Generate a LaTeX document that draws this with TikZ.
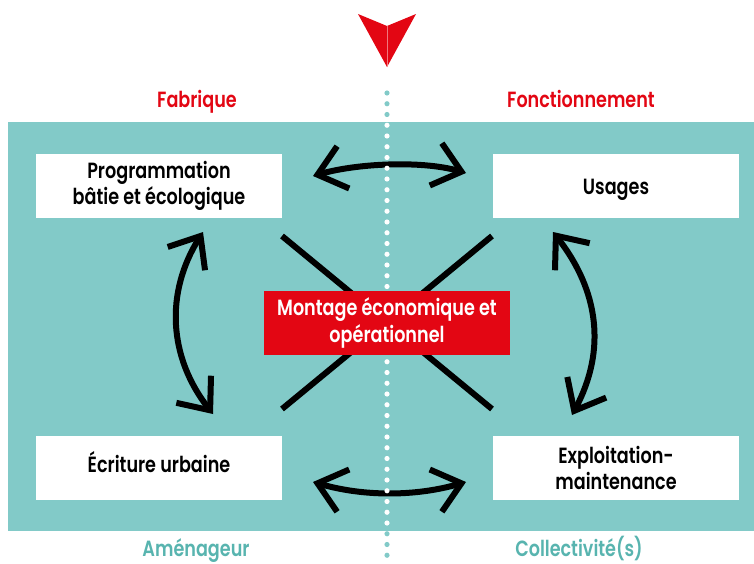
\documentclass[tikz,border=0pt]{standalone}
\usepackage{fontspec}
\setmainfont{Poppins}[UprightFont={* SemiBold}, FakeStretch=0.80]
\usetikzlibrary{arrows.meta}

\definecolor{panelteal}{RGB}{130,202,200}
\definecolor{tealtext}{RGB}{88,180,175}
\definecolor{redmain}{RGB}{227,6,19}

\tikzset{
  box/.style={fill=white, text=black, minimum width=184.5pt, minimum height=48pt,
    inner sep=0pt, align=center, font=\fontsize{16.5}{20}\selectfont},
  keybox/.style={box, fill=redmain, text=white},
  head/.style={font=\fontsize{16.5}{19}\selectfont, anchor=base},
  link/.style={line width=4.5pt,
    {Straight Barb[length=20pt,width=33pt]}-{Straight Barb[length=20pt,width=33pt]}},
  cross/.style={line width=4.5pt},
}

\begin{document}
\begin{tikzpicture}[x=0.75pt, y=-0.75pt]
  \useasboundingbox (0,0) rectangle (754,564);

  % panel
  \fill[panelteal] (8,122) rectangle (754,531);

  % top marker
  \fill[redmain] (358,14) -- (387,26) -- (387,67) -- cycle;
  \fill[redmain] (416,14) -- (387,26) -- (387,67) -- cycle;
  \draw[redmain!55!white, line width=0.4pt] (387,26) -- (387,66);

  % crossing lines through the centre
  \coordinate (c1) at (282,236);
  \coordinate (c2) at (492,409);
  \coordinate (c3) at (492,236);
  \coordinate (c4) at (282,409);
  \draw[cross] (c1) -- (c2);
  \draw[cross] (c3) -- (c4);

  % two-way curved arrows
  \coordinate (ta) at (313,176);  \coordinate (tb) at (466,173);
  \coordinate (ba) at (313,482);  \coordinate (bb) at (466,482);
  \coordinate (la) at (203,232);  \coordinate (lb) at (213,414);
  \coordinate (ra) at (553,232);  \coordinate (rb) at (572,415);
  \draw[link] (ta) .. controls +(-16:46) and +(196:46) .. (tb);
  \draw[link] (ba) .. controls +(16:53) and +(164:53) .. (bb);
  \draw[link] (la) .. controls +(122:72) and +(232:72) .. (lb);
  \draw[link] (ra) .. controls +(52:74) and +(-62:74) .. (rb);

  % dotted divider
  \foreach \k in {0,1,2,41,42,43}
    \fill[panelteal] (387,{93+10.75*\k}) circle (1.95pt);
  \foreach \k in {3,...,40}
    \fill[white] (387,{93+10.75*\k}) circle (1.95pt);

  % boxes
  \node[box] (prog) at (159,186) {Programmation\\bâtie et écologique};
  \node[box, text height=12.5pt, text depth=0pt] (usages) at (616,186) {Usages};
  \node[box, text height=6.5pt, text depth=0pt] (ecrit) at (159,468) {Écriture urbaine};
  \node[box] (exploit) at (616,468) {Exploitation-\\maintenance};
  \node[keybox] (montage) at (387,323) {Montage économique et\\opérationnel};

  % headings
  \node[head, text=redmain] (fab) at (197,107) {Fabrique};
  \node[head, text=redmain] (fonc) at (581,107) {Fonctionnement};
  \node[head, text=tealtext] (amen) at (196,556) {Aménageur};
  \node[head, text=tealtext] (coll) at (579,556) {Collectivité(s)};
\end{tikzpicture}
\end{document}
